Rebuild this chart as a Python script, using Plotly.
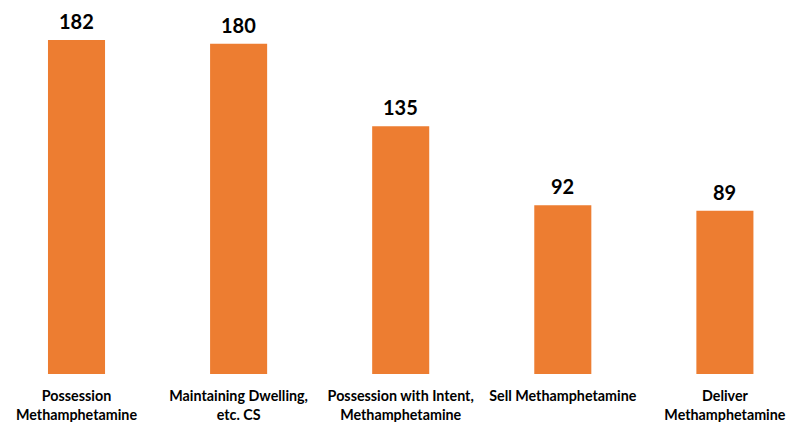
import plotly.graph_objects as go

categories = ["Possession<br>Methamphetamine", "Maintaining Dwelling,<br>etc. CS",
              "Possession with Intent,<br>Methamphetamine", "Sell Methamphetamine",
              "Deliver<br>Methamphetamine"]
values = [182, 180, 135, 92, 89]

fig = go.Figure(go.Bar(x=categories, y=values, marker=dict(color="#ED7D31", line=dict(width=0)),
                       width=0.352, hoverinfo="skip"))

for c, v in zip(categories, values):
    fig.add_annotation(x=c, y=v, text=f"<b>{v}</b>", showarrow=False, yanchor="bottom",
                       yshift=5, font=dict(family="Lato, Open Sans, sans-serif", size=20, color="black"))

fig.update_layout(
    width=804, height=422, margin=dict(l=0, r=0, t=0, b=48),
    plot_bgcolor="white", paper_bgcolor="white", showlegend=False,
    xaxis=dict(type="category", range=[-0.472, 4.488], showgrid=False, showline=False, zeroline=False,
               ticks="outside", ticklen=9, tickcolor="rgba(0,0,0,0)",
               tickfont=dict(family="Lato, Open Sans, sans-serif", size=14.3, color="black")),
    yaxis=dict(range=[0, 203.8], visible=False, showgrid=False, zeroline=False),
)
fig.update_xaxes(tickprefix="<b>", ticksuffix="</b>")
fig.write_html("out.html", config={"displayModeBar": False},
               post_script="document.body.style.margin='0';document.body.style.overflow='hidden';")
